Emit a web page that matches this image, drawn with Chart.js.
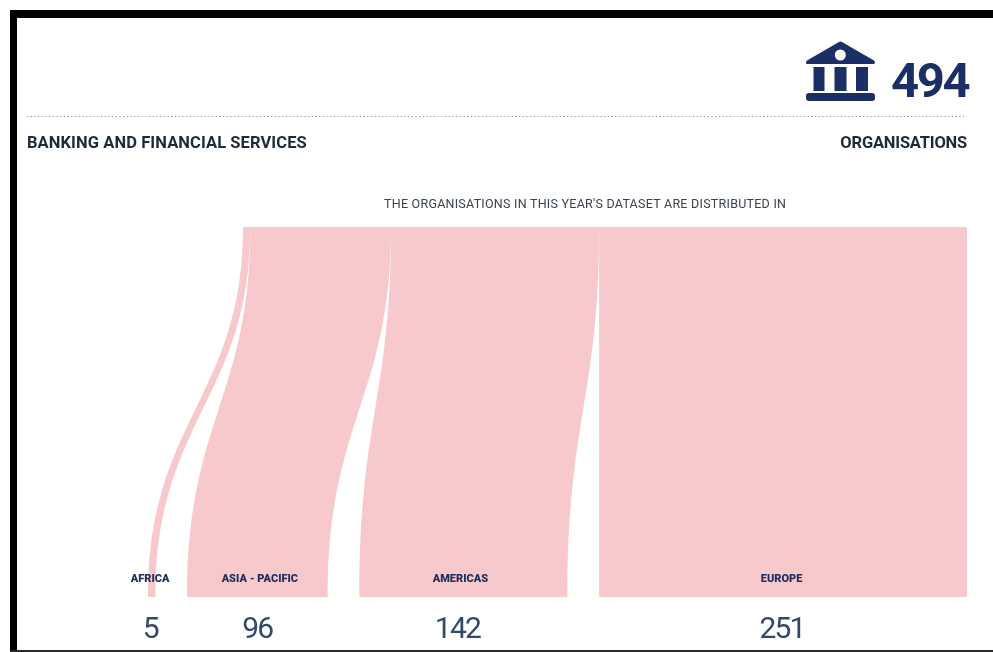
<!DOCTYPE html>
<html>
<head>
<meta charset="utf-8">
<title>Banking and financial services</title>
<script src="https://cdn.jsdelivr.net/npm/chart.js@4"></script>
<style>
    html, body { margin: 0; padding: 0; background: #fff; }
    #page { position: relative; width: 993px; height: 652px; overflow: hidden; background: #fff; font-family: Roboto, sans-serif; }
    #frame { position: absolute; left: 10px; top: 10px; width: 983px; height: 642px; box-sizing: border-box; border: solid #000; border-width: 8px 0 0 7px; }
    #frame-bottom { position: absolute; left: 10px; top: 650px; width: 983px; height: 2px; background: #2a2a2a; }
    canvas { position: absolute; left: 0; top: 0; }
    .txt { position: absolute; white-space: nowrap; line-height: 1; }
    #sector { left: 27px; top: 135px; font-size: 16.5px; font-weight: 700; color: #1d2a38; letter-spacing: 0.09px; }
    #unit { right: 26px; top: 135px; font-size: 16.5px; font-weight: 700; color: #1d2a38; letter-spacing: -0.2px; }
    #total { left: 891px; top: 56px; font-size: 49px; font-weight: 700; color: #1b2f66; letter-spacing: -2.4px; }
    #caption { left: 384px; top: 198px; font-size: 12.5px; color: #39434f; letter-spacing: 0.25px; }
    #bank { position: absolute; left: 806px; top: 41px; }
</style>
</head>
<body>
<div id="page">
    <canvas id="chart" width="993" height="652"></canvas>
    <div id="frame"></div>
    <div id="frame-bottom"></div>
    <svg id="bank" width="70" height="60" viewBox="0 0 70 60">
        <path d="M33 1 Q34.5 0.2 36 1 L68 19.5 Q70.5 23 67 23 L2 23 Q-1.5 23 1 19.5 Z" fill="#1b2f66"/>
        <circle cx="34.3" cy="14" r="5.5" fill="#fff"/>
        <rect x="7.5" y="26" width="11" height="24" fill="#1b2f66"/>
        <rect x="28.5" y="26" width="12" height="24" fill="#1b2f66"/>
        <rect x="50" y="26" width="12" height="24" fill="#1b2f66"/>
        <rect x="0" y="52" width="69" height="8" rx="3" fill="#1b2f66"/>
    </svg>
    <div class="txt" id="total">494</div>
    <div class="txt" id="sector">BANKING AND FINANCIAL SERVICES</div>
    <div class="txt" id="unit">ORGANISATIONS</div>
    <div class="txt" id="caption">THE ORGANISATIONS IN THIS YEAR'S DATASET ARE DISTRIBUTED IN</div>
</div>
<script>
const regions = ['AFRICA', 'ASIA - PACIFIC', 'AMERICAS', 'EUROPE'];
const counts = [5, 96, 142, 251];
const totalCount = 494;
// space left between the bands on the bottom row, in organisations
const laneGap = 21.6;

// small horizontal nudges for the text under each band, in px
const nameShift = [-1.5, 2.5, -3, -1.5];
const valueShift = [-1.5, 0, -6, -1];

const RIBBON_COLOR = '#f7c9cc';
const NAME_COLOR = '#1f2f5c';
const VALUE_COLOR = '#33486a';
// where the curve's control points sit between the top (0) and bottom (1) rows
const CURVE_TOP = 0.46;
const CURVE_BOTTOM = 0.52;

// each band: top edge packed against the others, bottom edge spread out by laneGap
function ribbonPoints() {
    let running = 0;
    return counts.map((count, i) => {
        const shift = laneGap * (counts.length - 1 - i);
        const pts = [
            { x: running, y: 1 },
            { x: running - shift, y: 0 },
            { x: running - shift + count, y: 0 },
            { x: running + count, y: 1 }
        ];
        running += count;
        return pts;
    });
}

const ribbonPlugin = {
    id: 'ribbons',
    beforeDatasetsDraw(chart) {
        const { ctx, scales: { x, y } } = chart;
        ctx.save();

        // dotted rule under the header
        ctx.strokeStyle = '#7d8185';
        ctx.lineWidth = 1;
        ctx.setLineDash([1, 2.7]);
        ctx.beginPath();
        ctx.moveTo(27, 116.5);
        ctx.lineTo(967, 116.5);
        ctx.stroke();
        ctx.setLineDash([]);

        ctx.fillStyle = RIBBON_COLOR;
        chart.data.datasets.forEach(ds => {
            const p = ds.data.map(d => ({ x: x.getPixelForValue(d.x), y: y.getPixelForValue(d.y) }));
            const h = p[1].y - p[0].y;
            const c1 = p[0].y + h * CURVE_TOP;
            const c2 = p[0].y + h * CURVE_BOTTOM;
            ctx.beginPath();
            ctx.moveTo(p[0].x, p[0].y);
            ctx.bezierCurveTo(p[0].x, c1, p[1].x, c2, p[1].x, p[1].y);
            ctx.lineTo(p[2].x, p[2].y);
            ctx.bezierCurveTo(p[2].x, c2, p[3].x, c1, p[3].x, p[3].y);
            ctx.closePath();
            ctx.fill();
        });
        ctx.restore();
    },
    afterDatasetsDraw(chart) {
        const { ctx, scales: { x, y } } = chart;
        ctx.save();
        ctx.textAlign = 'center';
        ctx.textBaseline = 'alphabetic';
        chart.data.datasets.forEach((ds, i) => {
            const center = (x.getPixelForValue(ds.data[1].x) + x.getPixelForValue(ds.data[2].x)) / 2;
            const base = y.getPixelForValue(0);
            ctx.font = '900 11px Roboto, sans-serif';
            ctx.letterSpacing = '0px';
            ctx.fillStyle = NAME_COLOR;
            ctx.fillText(regions[i], center + nameShift[i], base - 15);
            ctx.font = '400 30px Roboto, sans-serif';
            ctx.letterSpacing = '-1.8px';
            ctx.fillStyle = VALUE_COLOR;
            ctx.fillText(String(counts[i]), center + valueShift[i], base + 41);
        });
        ctx.restore();
    }
};

const ribbons = ribbonPoints();

new Chart(document.getElementById('chart'), {
    type: 'scatter',
    data: {
        datasets: ribbons.map((pts, i) => ({
            label: regions[i],
            data: pts,
            pointRadius: 0,
            showLine: false
        }))
    },
    options: {
        responsive: false,
        animation: false,
        layout: { padding: { left: 148, right: 26, top: 227, bottom: 55 } },
        plugins: { legend: { display: false }, tooltip: { enabled: false } },
        scales: {
            x: { display: false, min: ribbons[0][1].x, max: totalCount },
            y: { display: false, min: 0, max: 1 }
        }
    },
    plugins: [ribbonPlugin]
});
</script>
</body>
</html>
